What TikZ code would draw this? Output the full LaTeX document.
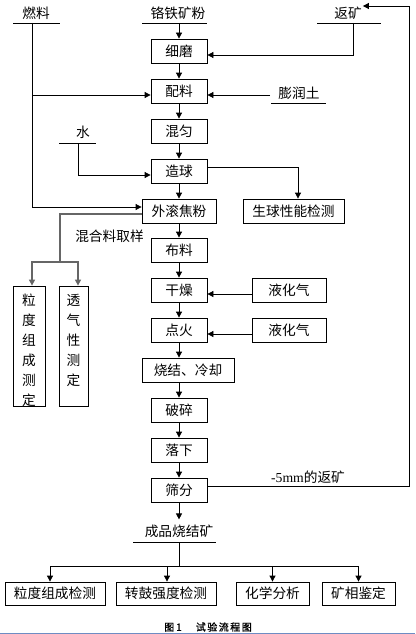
\documentclass[tikz,border=0pt]{standalone}
\usepackage{fontspec}
\setmainfont{Liberation Serif}
\newfontfamily\cjk{Noto Sans CJK SC}
\newfontfamily\cjkcap[FakeBold=1.2]{Noto Sans CJK SC}
\usetikzlibrary{arrows.meta}

\tikzset{
	box/.style={draw, line width=0.8pt, minimum height=24pt, inner sep=0pt, font=\cjk\fontsize{13.7}{16}\selectfont},
	lbl/.style={inner sep=0pt, font=\cjk\fontsize{13.7}{16}\selectfont},
	vtxt/.style={inner sep=0pt, align=center, anchor=north, font=\cjk\fontsize{13.7}{20}\selectfont},
	ln/.style={line width=0.8pt},
	gln/.style={line width=1.1pt, draw=black!60},
	arr/.style={ln, -{Triangle[length=6pt,width=6pt]}},
}

\begin{document}
\begin{tikzpicture}[x=1pt, y=-1pt]
	\useasboundingbox (0,0) rectangle (415,634);
	% Raw materials:
	\node[lbl] (rl) at (36,13){燃料};
	\node[lbl] (gt) at (178,13){铬铁矿粉};
	\node[lbl] (fk) at (348,13){返矿};
	\node[lbl] (pr) at (299,93){膨润土};
	\node[lbl] (sh) at (83,132){水};
	\draw[ln] (13,23) -- (60,23);
	\draw[ln] (142,23) -- (207,23);
	\draw[ln] (317,23) -- (381,23);
	\draw[ln] (271,103) -- (326,103);
	\draw[ln] (59,143) -- (96,143);
	\coordinate (rlu) at (32,23);
	\coordinate (gtu) at (179,23);
	\coordinate (fku) at (353,23);
	\coordinate (pru) at (270,95);
	\coordinate (shu) at (78,143);
	% Main process boxes:
	\node[box, minimum width=56pt] (xm) at (179,51){细磨};
	\node[box, minimum width=56pt] (pl) at (179,91){配料};
	\node[box, minimum width=56pt] (hy) at (179,131){混匀};
	\node[box, minimum width=56pt] (zq) at (179,171){造球};
	\node[box, minimum width=74pt] (wg) at (179,211){外滚焦粉};
	\node[box, minimum width=101pt] (sq) at (293.5,211){生球性能检测};
	\node[box, minimum width=56pt] (bl) at (179,250){布料};
	\node[box, minimum width=56pt] (gz) at (179,290){干燥};
	\node[box, minimum width=56pt] (dh) at (179,330){点火};
	\node[box, minimum width=92pt] (sj) at (188,370){烧结、冷却};
	\node[box, minimum width=56pt] (ps) at (179,410){破碎};
	\node[box, minimum width=56pt] (lx) at (179,450){落下};
	\node[box, minimum width=56pt] (sf) at (179,490){筛分};
	\node[box, minimum width=74pt] (yh1) at (289,290){液化气};
	\node[box, minimum width=74pt] (yh2) at (289,330){液化气};
	% Mix sampling:
	\node[lbl] (qy) at (109.5,236){混合料取样};
	\node[box, minimum width=32pt, minimum height=120pt] (lz) at (29,346){};
	\node[vtxt] (lzt) at (29,294){粒\\度\\组\\成\\测\\定};
	\node[box, minimum width=29pt, minimum height=120pt] (tq) at (73.5,346){};
	\node[vtxt] (tqt) at (73.5,294){透\\气\\性\\测\\定};
	% Product and tests:
	\node[lbl] (fh) at (308,477){{\rmfamily -5mm}的返矿};
	\node[lbl] (cp) at (179,531){成品烧结矿};
	\draw[ln] (133,542) -- (216,542);
	\coordinate (cpu) at (179,542);
	\coordinate (fb) at (179,566);
	\node[box, minimum width=100pt, minimum height=23pt] (b1) at (55,593.5){粒度组成检测};
	\node[box, minimum width=100pt, minimum height=23pt] (b2) at (166,593.5){转鼓强度检测};
	\node[box, minimum width=73pt, minimum height=23pt] (b3) at (272.5,593.5){化学分析};
	\node[box, minimum width=73pt, minimum height=23pt] (b4) at (358.5,593.5){矿相鉴定};
	\node[inner sep=0pt, font=\cjkcap\fontsize{10}{12}\selectfont] (cap) at (208,627)
		{图\kern2pt 1\kern14pt 试\kern1.5pt 验\kern1.5pt 流\kern1.5pt 程\kern1.5pt 图};
	\draw[draw={rgb,255:red,110;green,140;blue,195}, line width=1pt] (0,633.5) -- (415,633.5);

	% Wires:
	\draw[arr] (gtu) -- (xm);
	\draw[arr] (xm) -- (pl);
	\draw[arr] (pl) -- (hy);
	\draw[arr] (hy) -- (zq);
	\draw[arr] (zq) -- (wg);
	\draw[arr] (wg) -- (bl);
	\draw[arr] (bl) -- (gz);
	\draw[arr] (gz) -- (dh);
	\draw[arr] (dh) -- (dh |- sj.north);
	\draw[arr] (ps |- sj.south) -- (ps);
	\draw[arr] (ps) -- (lx);
	\draw[arr] (lx) -- (sf);
	\draw[arr] (sf) -- ([yshift=5pt]cp.north);
	\draw[arr] (fku) |- ([yshift=-4pt]xm.east);
	\draw[arr] (rlu) |- ([yshift=4pt]wg.west);
	\coordinate (plw) at ([yshift=-4pt]pl.west);
	\draw[arr] (rlu |- plw) -- (plw);
	\draw[arr] (pru) -- ([yshift=-4pt]pl.east);
	\draw[arr] (shu) |- ([yshift=-4pt]zq.west);
	\draw[arr] ([yshift=4pt]zq.east) -| ([xshift=4.5pt]sq.north);
	\draw[arr] ([yshift=-4pt]yh1.west) -- ([yshift=-4pt]gz.east);
	\draw[arr] ([yshift=-4pt]yh2.west) -- ([yshift=-4pt]dh.east);
	\coordinate (qy1) at ([yshift=-3pt]wg.west);
	\coordinate (qy2) at (60,262);
	\draw[gln] (qy1) -| (qy2);
	\draw[arr, gln] (qy2) -| ([xshift=3pt]lz.north);
	\draw[arr, gln] (qy2) -| ([xshift=4.5pt]tq.north);
	\coordinate (fhr) at (409,6);
	\draw[arr] ([yshift=4pt]sf.east) -| (fhr) -- ([xshift=1pt]fk.east |- fhr);
	\draw[ln] (cpu) -- (fb);
	\draw[arr] (fb) -| ([xshift=-5pt]b1.north);
	\draw[arr] (fb) -| ([xshift=1pt]b2.north);
	\draw[arr] (fb) -| (b3.north);
	\draw[arr] (fb) -| (b4.north);
\end{tikzpicture}
\end{document}
